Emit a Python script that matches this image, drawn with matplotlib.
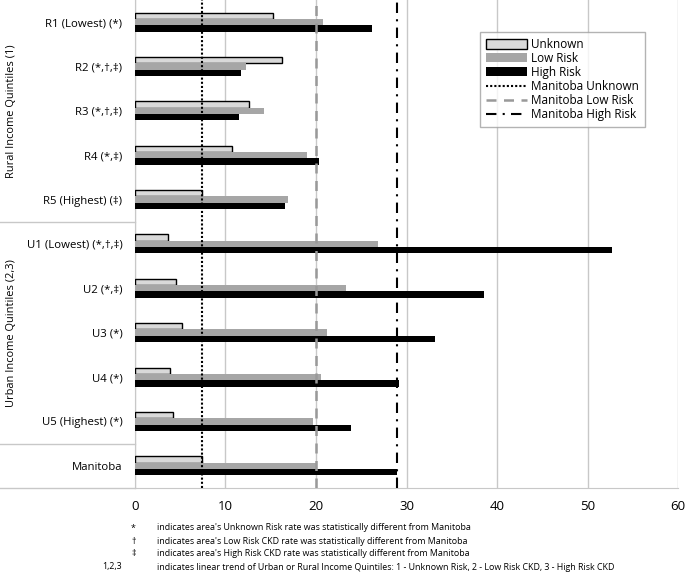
import matplotlib.pyplot as plt
import matplotlib.transforms as mtransforms
from matplotlib.patches import Patch
from matplotlib.lines import Line2D
import numpy as np

plt.rcParams['font.family'] = ['Open Sans', 'DejaVu Sans']

categories = ['R1 (Lowest) (*)', 'R2 (*,\u2020,\u2021)', 'R3 (*,\u2020,\u2021)', 'R4 (*,\u2021)',
              'R5 (Highest) (\u2021)', 'U1 (Lowest) (*,\u2020,\u2021)', 'U2 (*,\u2021)', 'U3 (*)',
              'U4 (*)', 'U5 (Highest) (*)', 'Manitoba']
unknown = [15.3, 16.2, 12.6, 10.7, 7.4, 3.6, 4.5, 5.2, 3.9, 4.2, 7.4]
low_risk = [20.8, 12.3, 14.2, 19.0, 16.9, 26.8, 23.3, 21.2, 20.5, 19.7, 20.0]
high_risk = [26.2, 11.7, 11.5, 20.3, 16.6, 52.7, 38.6, 33.1, 29.2, 23.9, 29.0]
mb_unknown = 7.4
mb_low = 20.0
mb_high = 29.0
x_ticks = [0, 10, 20, 30, 40, 50, 60]
footnotes = [
    ('*', "indicates area's Unknown Risk rate was statistically different from Manitoba"),
    ('\u2020', "indicates area's Low Risk CKD rate was statistically different from Manitoba"),
    ('\u2021', "indicates area's High Risk CKD rate was statistically different from Manitoba"),
    ('1,2,3', 'indicates linear trend of Urban or Rural Income Quintiles: 1 - Unknown Risk, 2 - Low Risk CKD, 3 - High Risk CKD'),
]

fig = plt.figure(figsize=(6.85, 5.72), dpi=100)
ax = fig.add_axes([0.197, 0.147, 0.793, 0.853])

y = np.arange(len(categories))
h = 0.143
ax.barh(y - h, unknown, height=h, color='#d9d9d9', edgecolor='black', linewidth=1, zorder=3)
ax.barh(y, low_risk, height=h, color='#a6a6a6', zorder=3)
ax.barh(y + h, high_risk, height=h, color='black', zorder=3)

ax.axvline(mb_unknown, color='black', linestyle=(0, (1, 1)), linewidth=1.5, zorder=4)
ax.axvline(mb_low, color='#999999', linestyle=(0, (4, 3)), linewidth=1.8, zorder=4)
ax.axvline(mb_high, color='black', linestyle=(0, (5, 3, 1, 3)), linewidth=1.5, zorder=4)

ax.set_xlim(0, 60)
ax.set_ylim(len(categories) - 0.5, -0.5)
ax.set_xticks(x_ticks)
ax.set_yticks(y)
ax.set_yticklabels(categories, fontsize=8.2)
ax.tick_params(axis='x', labelsize=9.5, length=0, pad=9)
ax.tick_params(axis='y', length=0, pad=9)
ax.grid(axis='x', color='#c8c8c8', linewidth=1, zorder=0)
for s in ['top', 'right']:
    ax.spines[s].set_visible(False)
ax.spines['left'].set_color('#c8c8c8')
ax.spines['bottom'].set_color('#c8c8c8')

# group separators in the label area
trans = mtransforms.blended_transform_factory(ax.transAxes, ax.transData)
x0 = -0.197 / 0.793
for yy in [4.5, 9.5, 10.5]:
    ax.plot([x0, 0], [yy, yy], color='#c8c8c8', linewidth=1, transform=trans, clip_on=False)

ax.text(x0 + 0.022, 2, 'Rural Income Quintiles (1)', transform=trans, rotation=90,
        ha='center', va='center', fontsize=7.9)
ax.text(x0 + 0.022, 7, 'Urban Income Quintiles (2,3)', transform=trans, rotation=90,
        ha='center', va='center', fontsize=7.9)

handles = [
    Patch(facecolor='#d9d9d9', edgecolor='black', linewidth=1, label='Unknown'),
    Patch(facecolor='#a6a6a6', label='Low Risk'),
    Patch(facecolor='black', label='High Risk'),
    Line2D([], [], color='black', linestyle=(0, (1, 1)), linewidth=1.5, label='Manitoba Unknown'),
    Line2D([], [], color='#999999', linestyle=(0, (4, 3)), linewidth=1.8, label='Manitoba Low Risk'),
    Line2D([], [], color='black', linestyle=(0, (5, 3, 1, 3)), linewidth=1.5, label='Manitoba High Risk'),
]
leg = ax.legend(handles=handles, loc='upper left', bbox_to_anchor=(0.635, 0.934), fontsize=8.5,
                frameon=True, fancybox=False, edgecolor='#a0a0a0', handlelength=3.5,
                handleheight=0.8, labelspacing=0.08, borderpad=0.5, handletextpad=0.35,
                borderaxespad=0)
leg.get_frame().set_linewidth(1)

for i, (sym, txt) in enumerate(footnotes):
    yy = 1 - (528 + i * 13) / 572
    sx = 102 / 685 if sym == '1,2,3' else 131 / 685
    fig.text(sx, yy, sym, fontsize=6.4, va='center', ha='left')
    fig.text(157 / 685, yy, txt, fontsize=6.4, va='center', ha='left')

fig.savefig('out.png', dpi=100)
